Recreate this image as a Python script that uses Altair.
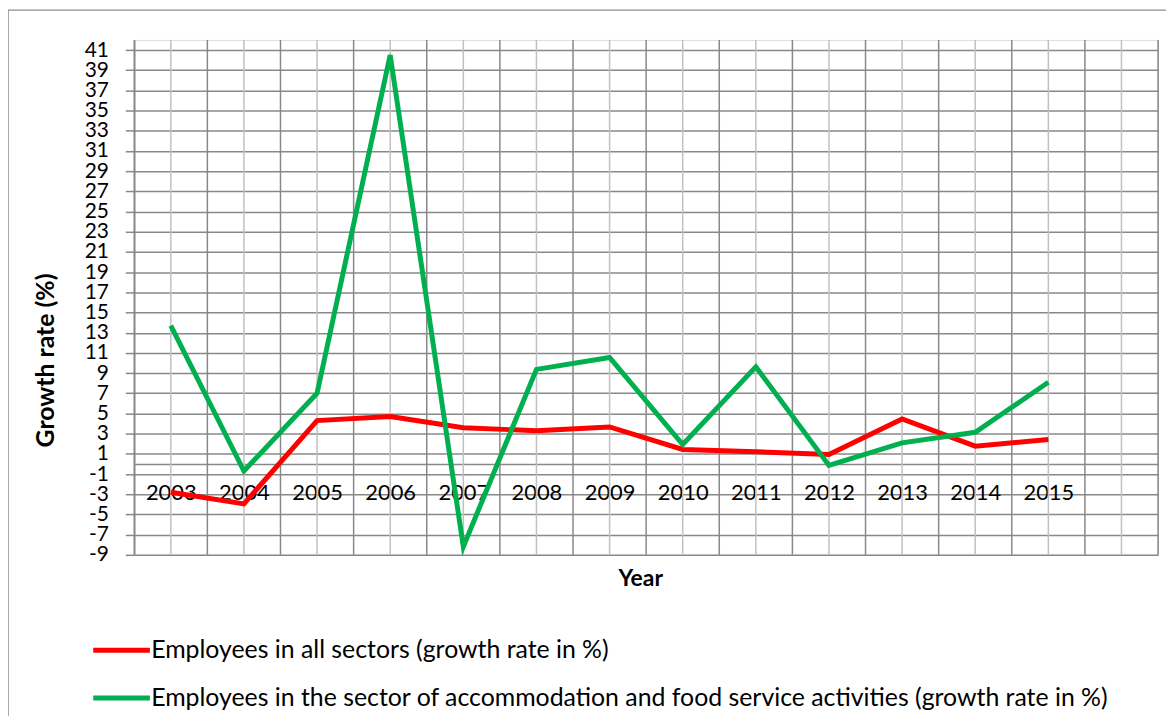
import altair as alt
import pandas as pd

# ---- data ----
years = [2003, 2004, 2005, 2006, 2007, 2008, 2009, 2010, 2011, 2012, 2013, 2014, 2015]
blank_category = 2016  # empty category slot after 2015

all_sectors = [-2.8, -3.95, 4.3, 4.7, 3.58, 3.3, 3.67, 1.44, 1.21, 0.94, 4.45, 1.76, 2.42]
accommodation = [13.7, -0.7, 7.0, 40.5, -8.2, 9.37, 10.55, 1.93, 9.63, -0.14, 2.09, 3.14, 8.09]

series_names = [
    "Employees in all sectors (growth rate in %)",
    "Employees in the sector of accommodation and food service activities (growth rate in %)",
]
series_colors = ["#FF0000", "#00B050"]

y_ticks = [-9, -7, -5, -3, -1, 1, 3, 5, 7, 9, 11, 13, 15, 17, 19, 21, 23, 25,
           27, 29, 31, 33, 35, 37, 39, 41]
y_domain = [-9, 42]

# ---- tables ----
rows = []
for name, vals in zip(series_names, [all_sectors, accommodation]):
    for yr, v in zip(years, vals):
        rows.append({"year": yr, "value": v, "series": name})
df = pd.DataFrame(rows)

centers = years + [blank_category]
bounds = [c - 0.5 for c in centers] + [blank_category + 0.5]
centers_df = pd.DataFrame({"year": centers})
bounds_df = pd.DataFrame({"year": bounds})

FONT = "Lato"
GRID_DARK = "#888888"
GRID_LIGHT = "#c0c0c0"

W, H = 1030, 518
PAD = {"left": 127, "top": 30, "right": 8, "bottom": 160}
x_scale = alt.Scale(domain=[bounds[0], bounds[-1]], nice=False, zero=False)
y_scale = alt.Scale(domain=y_domain, nice=False, zero=False)

# pixel position of value 0 within the plot (category axis crosses at 0)
zero_offset = H * (y_domain[1] - 0) / (y_domain[1] - y_domain[0]) - H

x_axis = alt.Axis(
    values=years,
    format="d",
    grid=False,
    ticks=False,
    tickSize=0,
    offset=zero_offset,
    domainColor=GRID_DARK,
    domainWidth=1.5,
    labelFont=FONT,
    labelFontSize=22,
    labelColor="black",
    labelBaseline="alphabetic",
    labelPadding=36,
    labelFlush=False,
    labelOverlap=False,
    title="Year",
    titleFont=FONT,
    titleFontSize=23,
    titleFontWeight="bold",
    titleColor="black",
    titleX=509,
    titleY=122,
    titleBaseline="alphabetic",
)

# chart-area frame (decoration only)
frame = alt.Chart(pd.DataFrame({"k": [0]})).mark_rect(
    fill=None, stroke="#8c8c8c", strokeWidth=1.5
).encode(
    x=alt.value(-PAD["left"]),
    x2=alt.value(W + 200),
    y=alt.value(-PAD["top"]),
    y2=alt.value(H + 400),
)

light_rules = alt.Chart(centers_df).mark_rule(color=GRID_LIGHT, strokeWidth=1.5).encode(
    x=alt.X("year:Q", scale=x_scale, axis=x_axis)
)
dark_rules = alt.Chart(bounds_df).mark_rule(color=GRID_DARK, strokeWidth=1.5).encode(
    x=alt.X("year:Q", scale=x_scale, axis=x_axis)
)

lines = alt.Chart(df).mark_line(strokeWidth=5).encode(
    x=alt.X("year:Q", scale=x_scale, axis=x_axis),
    y=alt.Y(
        "value:Q",
        scale=y_scale,
        axis=alt.Axis(
            values=y_ticks,
            labelExpr="'' + datum.value",
            grid=True,
            gridColor=GRID_DARK,
            gridWidth=1.5,
            tickColor=GRID_DARK,
            tickSize=9,
            tickWidth=1.5,
            domainColor=GRID_DARK,
            domainWidth=1.5,
            labelFont=FONT,
            labelFontSize=21,
            labelColor="black",
            labelPadding=17,
            labelOverlap=False,
            title="Growth rate (%)",
            titleFont=FONT,
            titleFontSize=25,
            titleFontWeight="bold",
            titleColor="black",
            titleAngle=270,
            titleX=-81,
            titleY=322,
            titleBaseline="alphabetic",
        ),
    ),
    color=alt.Color(
        "series:N",
        scale=alt.Scale(domain=series_names, range=series_colors),
        legend=alt.Legend(
            orient="none",
            legendX=-44,
            legendY=597,
            direction="vertical",
            title=None,
            labelFont=FONT,
            labelFontSize=25,
            labelColor="black",
            labelLimit=0,
            symbolType="M-1,0H3",
            symbolSize=812,
            symbolStrokeWidth=5,
            labelOffset=27,
            rowPadding=18,
            padding=0,
        ),
    ),
    order=alt.Order("year:Q"),
)

chart = (
    alt.layer(frame, light_rules, dark_rules, lines)
    .properties(
        width=W,
        height=H,
        autosize=alt.AutoSizeParams(type="none"),
        padding=PAD,
    )
    .configure_view(stroke=None)
    .configure(background="white")
)

chart.save("out.html", embed_options={"renderer": "svg", "actions": False})
